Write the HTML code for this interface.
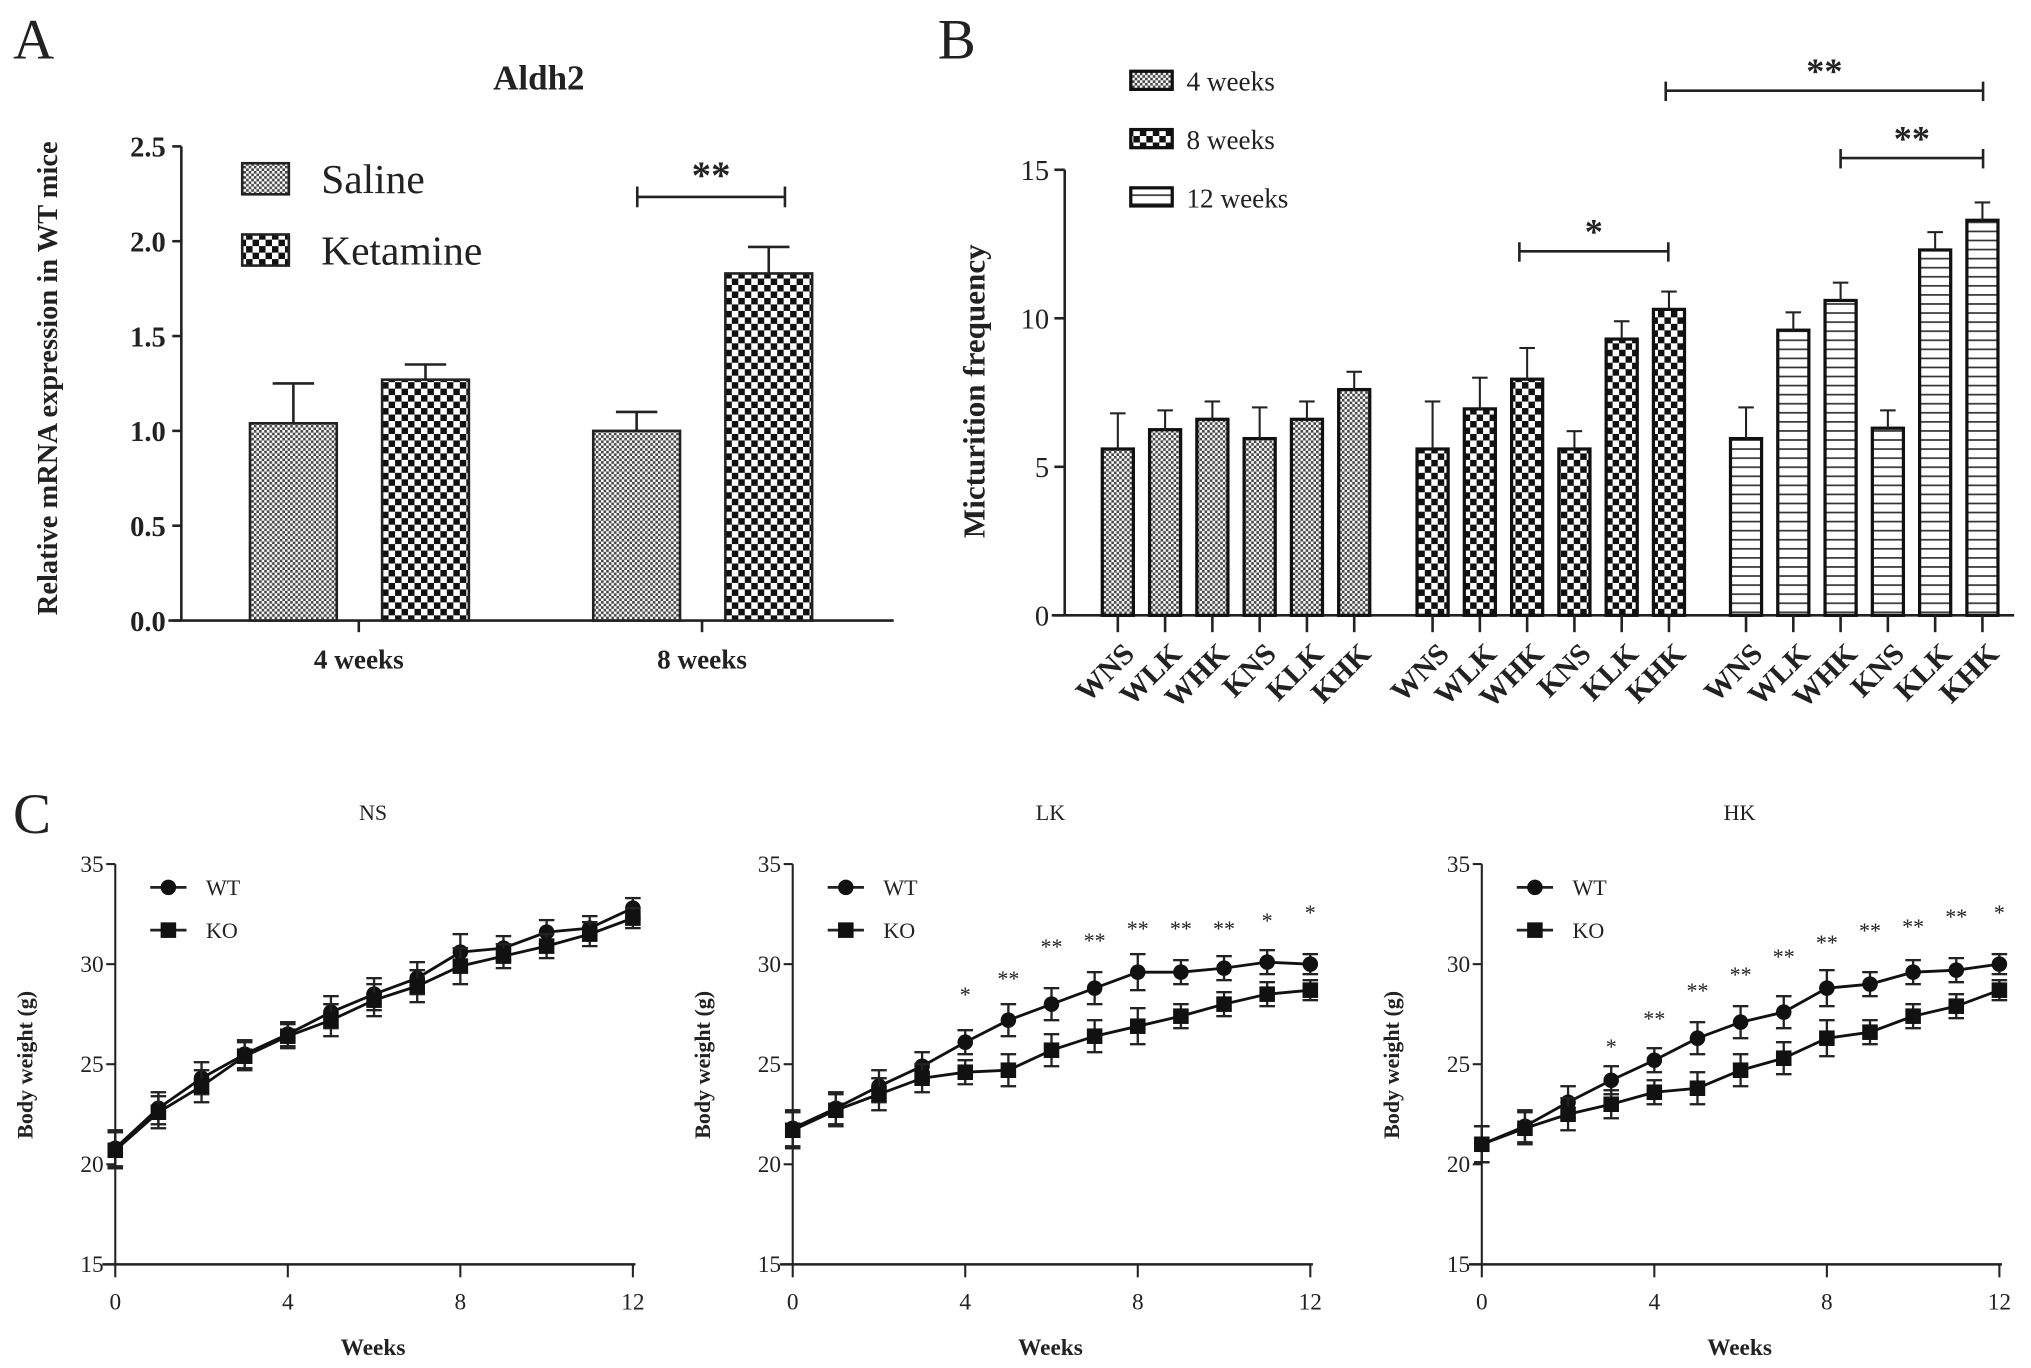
<!DOCTYPE html>
<html><head><meta charset="utf-8"><style>
html,body{margin:0;padding:0;background:#fff}
svg{display:block}
text{font-family:"Liberation Serif",serif;fill:#222}
</style></head><body>
<svg id="s" width="2031" height="1368" viewBox="0 0 1568 1056" preserveAspectRatio="none">
<defs>
<pattern id="pFine" width="4" height="4" patternUnits="userSpaceOnUse"><rect width="4" height="4" fill="#fff"/><rect width="2" height="2" fill="#444"/><rect x="2" y="2" width="2" height="2" fill="#444"/></pattern>
<pattern id="pChk" width="10" height="10" patternUnits="userSpaceOnUse"><rect width="10" height="10" fill="#fff"/><rect width="5" height="5" fill="#111"/><rect x="5" y="5" width="5" height="5" fill="#111"/></pattern>
<pattern id="pLine" width="8" height="7" patternUnits="userSpaceOnUse"><rect width="8" height="7" fill="#fff"/><rect y="3" width="8" height="1.3" fill="#333"/></pattern>
</defs>
<g id="A"></g>
<g id="B"></g>
<g id="C"></g>
</svg>
<script>
// Panel A data
const aGroups=["4 weeks","8 weeks"];
const aSaline=[1.04,1.0];
const aSalineErr=[0.21,0.10];
const aKet=[1.27,1.83];
const aKetErr=[0.08,0.14];
const aTicks=["0.0","0.5","1.0","1.5","2.0","2.5"];
// Panel B data
const bCats=["WNS","WLK","WHK","KNS","KLK","KHK"];
const b4w=[5.6,6.25,6.6,5.95,6.6,7.6];
const b4wErr=[1.2,0.65,0.6,1.05,0.6,0.6];
const b8w=[5.6,6.95,7.95,5.6,9.3,10.3];
const b8wErr=[1.6,1.05,1.05,0.6,0.6,0.6];
const b12w=[5.95,9.6,10.6,6.3,12.3,13.3];
const b12wErr=[1.05,0.6,0.6,0.6,0.6,0.6];
const bTicks=[0,5,10,15];
// Panel C data
const weeks=[0,1,2,3,4,5,6,7,8,9,10,11,12];
const nsWT=[20.8,22.8,24.3,25.5,26.5,27.6,28.5,29.3,30.6,30.8,31.6,31.8,32.8];
const nsKO=[20.7,22.6,23.9,25.4,26.4,27.2,28.2,28.9,29.9,30.4,30.9,31.5,32.3];
const lkWT=[21.8,22.8,23.9,24.9,26.1,27.2,28.0,28.8,29.6,29.6,29.8,30.1,30.0];
const lkKO=[21.7,22.7,23.5,24.3,24.6,24.7,25.7,26.4,26.9,27.4,28.0,28.5,28.7];
const hkWT=[21.0,21.9,23.1,24.2,25.2,26.3,27.1,27.6,28.8,29.0,29.6,29.7,30.0];
const hkKO=[21.0,21.8,22.5,23.0,23.6,23.8,24.7,25.3,26.3,26.6,27.4,27.9,28.7];
const errC=[0.9,0.8,0.8,0.7,0.6,0.8,0.8,0.8,0.9,0.6,0.6,0.6,0.5];
const lkStars=["","","","","*","**","**","**","**","**","**","*","*"];
const lkStarVal=[0,0,0,0,26.2,27.0,28.6,28.9,29.5,29.5,29.5,29.9,30.3];
const hkStars=["","","","*","**","**","**","**","**","**","**","**","*"];
const hkStarVal=[0,0,0,23.6,25.0,26.4,27.2,28.1,28.8,29.4,29.6,30.1,30.3];
const cTicksY=[15,20,25,30,35];
const cTicksX=[0,4,8,12];

const NS="http://www.w3.org/2000/svg";
function mk(p,t,a,txt){const e=document.createElementNS(NS,t);for(const k in a)e.setAttribute(k,a[k]);if(txt!==undefined)e.textContent=txt;p.appendChild(e);return e;}
function ln(p,x1,y1,x2,y2,w){return mk(p,'line',{x1,y1,x2,y2,stroke:'#222','stroke-width':w||2});}

// ---------- Panel A ----------
(function(){
const g=document.getElementById('A');
const yA=v=>479-v*146.4;
const lbl=mk(g,'text',{x:10,y:45,'font-size':44},'A');

const t=mk(g,'text',{x:416,y:69,'font-size':27,'font-weight':'bold','text-anchor':'middle'},'Aldh2');

const yt=mk(g,'text',{x:0,y:0,'font-size':22,'font-weight':'bold','text-anchor':'middle',transform:'translate(44,292) rotate(-90)'},'Relative mRNA expression in WT mice');

ln(g,140,113,140,479);ln(g,130,479,690,479);
aTicks.forEach(s=>{const v=+s;ln(g,133,yA(v),140,yA(v));
 const e=mk(g,'text',{x:128,y:yA(v)+8,'font-size':22,'font-weight':'bold','text-anchor':'end'},s);
 });
const centers=[277,542];
aGroups.forEach((n,i)=>{const c=centers[i];ln(g,c,479,c,488);
 const e=mk(g,'text',{x:c,y:516,'font-size':21,'font-weight':'bold','text-anchor':'middle'},n);
 
 [[aSaline,aSalineErr,'url(#pFine)',-84],[aKet,aKetErr,'url(#pChk)',18]].forEach(([vals,errs,fill,off])=>{
  const x=c+off,w=67,v=vals[i],e2=errs[i];
  const r=mk(g,'rect',{x,y:yA(v),width:w,height:479-yA(v),fill,stroke:'#222','stroke-width':2});
  
  ln(g,x+w/2,yA(v),x+w/2,yA(v+e2));ln(g,x+w/2-16,yA(v+e2),x+w/2+16,yA(v+e2));
 });
});
ln(g,492,152,606,152);ln(g,492,144,492,160);ln(g,606,144,606,160);
mk(g,'text',{x:549,y:145,'font-size':30,'font-weight':'bold','text-anchor':'middle'},'**');
[['Saline','url(#pFine)',138],['Ketamine','url(#pChk)',193]].forEach(([n,f,y])=>{
 const r=mk(g,'rect',{x:187,y:y-12,width:36,height:24,fill:f,stroke:'#222','stroke-width':2});
 
 const e=mk(g,'text',{x:248,y:y+11,'font-size':32},n);
 });
})();

// ---------- Panel B ----------
(function(){
const g=document.getElementById('B');
const yB=v=>475-v*22.93;
const lbl=mk(g,'text',{x:724,y:45,'font-size':44},'B');

const yt=mk(g,'text',{x:0,y:0,'font-size':24,'font-weight':'bold','text-anchor':'middle',transform:'translate(760,302) rotate(-90)'},'Micturition frequency');

ln(g,822,131,822,475);ln(g,812,475,1555,475);
bTicks.forEach(v=>{ln(g,814,yB(v),822,yB(v));
 const e=mk(g,'text',{x:810,y:yB(v)+8,'font-size':22,'text-anchor':'end','font-family':'Liberation Sans'},v);
 });
const starts=[863,1106,1348],sp=36.5;
[[b4w,b4wErr,'url(#pFine)'],[b8w,b8wErr,'url(#pChk)'],[b12w,b12wErr,'url(#pLine)']].forEach(([vals,errs,fill],gi)=>{
 bCats.forEach((n,i)=>{const c=starts[gi]+i*sp,v=vals[i],e2=errs[i];
  const r=mk(g,'rect',{x:c-12,y:yB(v),width:24,height:475-yB(v),fill,stroke:'#111','stroke-width':2.5});
  
  ln(g,c,yB(v),c,yB(v+e2),1.6);ln(g,c-6,yB(v+e2),c+6,yB(v+e2),1.6);
  ln(g,c,475,c,488);
  const e=mk(g,'text',{x:0,y:0,'font-size':23,'font-weight':'bold','text-anchor':'end',transform:`translate(${c+14},${506}) rotate(-45)`},n);
  
 });
});
function br(x1,x2,y,s){ln(g,x1,y,x2,y);ln(g,x1,y-7,x1,y+8);ln(g,x2,y-7,x2,y+8);
 mk(g,'text',{x:(x1+x2)/2,y:y-6,'font-size':28,'font-weight':'bold','text-anchor':'middle'},s);}
br(1173,1288,194,'*');br(1421,1531,122,'**');br(1286,1531,70,'**');
[['4 weeks','url(#pFine)',62],['8 weeks','url(#pChk)',107],['12 weeks','url(#pLine)',152]].forEach(([n,f,y])=>{
 const r=mk(g,'rect',{x:873,y:y-7,width:32,height:14,fill:f,stroke:'#111','stroke-width':2.5});
 
 const e=mk(g,'text',{x:916,y:y+8,'font-size':21,fill:'#555'},n);
 });
})();

// ---------- Panel C ----------
(function(){
const g=document.getElementById('C');
const lbl=mk(g,'text',{x:10,y:643,'font-size':44},'C');

const yC=v=>976-(v-15)*15.45;
const panels=[[89,'NS',nsWT,nsKO,null,null],[612,'LK',lkWT,lkKO,lkStars,lkStarVal],[1144,'HK',hkWT,hkKO,hkStars,hkStarVal]];
panels.forEach(([x0,title,wt,ko,st,sv])=>{
 const xC=w=>x0+w*33.3;
 const sub=mk(g,'g',{});
 
 mk(sub,'text',{x:x0+199,y:633,'font-size':17,'text-anchor':'middle'},title);
 mk(sub,'text',{x:0,y:0,'font-size':17,'font-weight':'bold','text-anchor':'middle',fill:'#444',transform:`translate(${x0-64},822) rotate(-90)`},'Body weight (g)');
 mk(sub,'text',{x:x0+199,y:1046,'font-size':18,'font-weight':'bold','text-anchor':'middle',fill:'#444'},'Weeks');
 ln(sub,x0,667,x0,976,1.6);ln(sub,x0-10,976,xC(12)+2,976,2);
 cTicksY.forEach(v=>{ln(sub,x0-7,yC(v),x0,yC(v),1.6);
  const e=mk(sub,'text',{x:x0-9,y:yC(v)+6,'font-size':18,'text-anchor':'end'},v);
  });
 cTicksX.forEach(w=>{ln(sub,xC(w),976,xC(w),986,1.6);
  const e=mk(sub,'text',{x:xC(w),y:1011,'font-size':18,'text-anchor':'middle'},w);
  });
 [[wt,'c'],[ko,'s']].forEach(([vals,m])=>{
  const pts=weeks.map((w,i)=>xC(w)+','+yC(vals[i])).join(' ');
  const pl=mk(sub,'polyline',{points:pts,fill:'none',stroke:'#111','stroke-width':2.2});
  
  weeks.forEach((w,i)=>{const x=xC(w),y=yC(vals[i]),e=errC[i];
   ln(sub,x,yC(vals[i]+e),x,yC(vals[i]-e),1.8);ln(sub,x-6,yC(vals[i]+e),x+6,yC(vals[i]+e),1.8);ln(sub,x-6,yC(vals[i]-e),x+6,yC(vals[i]-e),1.8);
   const p=m=='c'?mk(sub,'circle',{cx:x,cy:y,r:6,fill:'#111'}):mk(sub,'rect',{x:x-6,y:y-6,width:12,height:12,fill:'#111'});
   
  });
 });
 if(st)weeks.forEach((w,i)=>{if(st[i]){
  const e=mk(sub,'text',{x:xC(w),y:yC(sv[i]+1.9),'font-size':17,'text-anchor':'middle',fill:'#333'},st[i]);
  }});
 [['WT',685,'c'],['KO',718,'s']].forEach(([n,y,m])=>{
  ln(sub,x0+27,y,x0+55,y,2.2);
  if(m=='c')mk(sub,'circle',{cx:x0+41,cy:y,r:6,fill:'#111'});else mk(sub,'rect',{x:x0+35,y:y-6,width:12,height:12,fill:'#111'});
  const e=mk(sub,'text',{x:x0+70,y:y+6,'font-size':17},n);
  });
});
})();
</script>
</body></html>
